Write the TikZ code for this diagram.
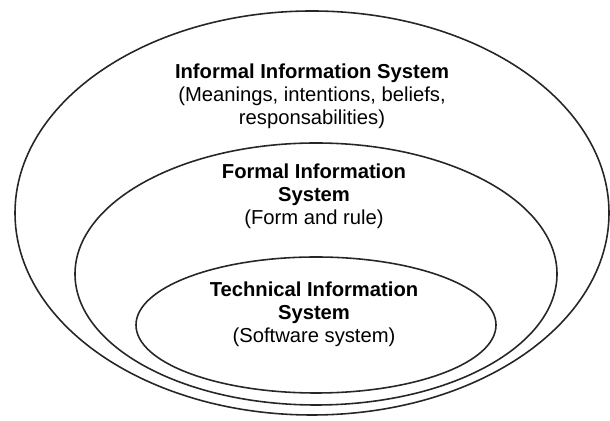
\documentclass[tikz,border=0pt]{standalone}
\usepackage{fontspec}
\setmainfont{Liberation Sans}
\usepackage{tikz}

\tikzset{
  ring/.style={draw=black!85, line width=0.9pt},
  caption/.style={align=center, inner sep=0pt, font=\fontsize{11.5}{13.1}\selectfont}
}

\begin{document}
\begin{tikzpicture}[xscale=.2,yscale=.2]
            \useasboundingbox (0,0) rectangle (61,42.1);
            % the three nested systems, outermost first
            \draw[ring] (31.2,20.8) ellipse [x radius=29.7, y radius=20.2];
            \draw[ring] (31.6,14.7) ellipse [x radius=24.1, y radius=13.1];
            \draw[ring] (31.6,9.6) ellipse [x radius=18.0, y radius=6.8];
            \node[caption] (informal) at (31.2,32.5) {\textbf{Informal Information System}\\(Meanings, intentions, beliefs,\\responsabilities)};
            \node[caption] (formal) at (31.4,22.5) {\textbf{Formal Information}\\\textbf{System}\\(Form and rule)};
            \node[caption] (technical) at (31.4,10.7) {\textbf{Technical Information}\\\textbf{System}\\(Software system)};
        \end{tikzpicture}
\end{document}
